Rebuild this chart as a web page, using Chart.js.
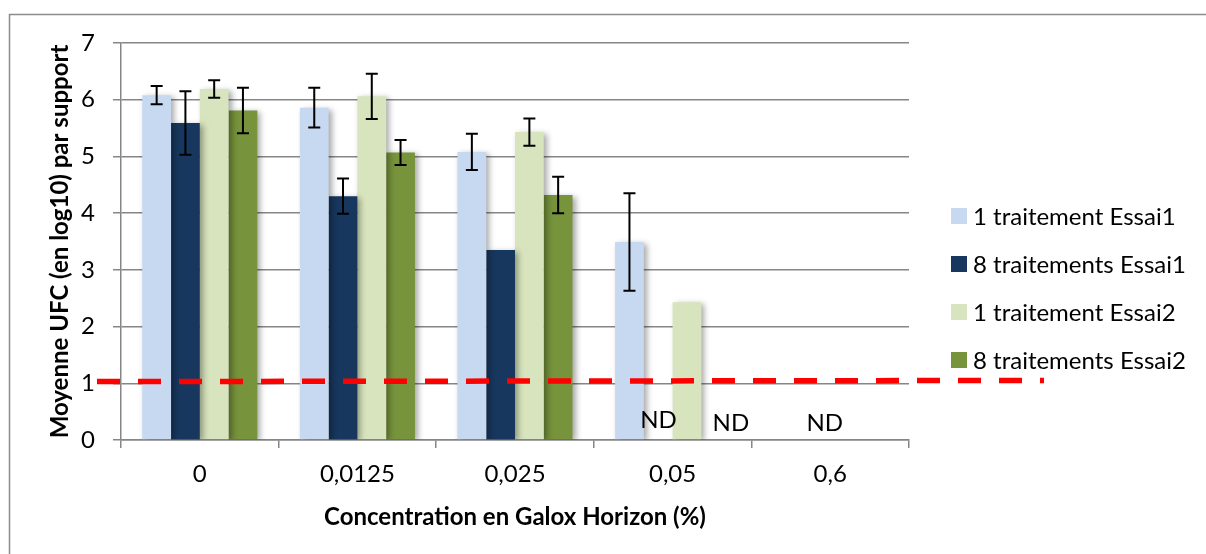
<!DOCTYPE html>
<html>
<head>
<meta charset="utf-8">
<script src="https://cdn.jsdelivr.net/npm/chart.js@4.4.0/dist/chart.umd.min.js"></script>
<style>
  body { margin: 0; background: #fff; }
  canvas { display: block; }
</style>
</head>
<body>
<canvas id="chart" width="1206" height="554"></canvas>
<script>
// data
const categories = ['0', '0,0125', '0,025', '0,05', '0,6'];
const seriesNames = ['1 traitement Essai1', '8 traitements Essai1', '1 traitement Essai2', '8 traitements Essai2'];

const un_essai1 = [6.08, 5.86, 5.08, 3.49, null];
const huit_essai1 = [5.59, 4.30, 3.35, null, null];
const un_essai2 = [6.19, 6.06, 5.43, 2.43, null];
const huit_essai2 = [5.81, 5.07, 4.32, null, null];

const err_un_essai1 = [0.16, 0.35, 0.32, 0.86, null];
const err_huit_essai1 = [0.56, 0.31, null, null, null];
const err_un_essai2 = [0.155, 0.40, 0.24, null, null];
const err_huit_essai2 = [0.40, 0.22, 0.32, null, null];

const seuil = [1.03, 1.05]; // dashed red limit, left -> right
const ndCategories = ['0,05', '0,05', '0,6'];

const yTicks = [0, 1, 2, 3, 4, 5, 6, 7];

const colors = ['#C6D9F1', '#17375E', '#D7E4BD', '#77933C'];
const font = 'Lato, "Open Sans", sans-serif';
const gridColor = '#868686';

const errors = [err_un_essai1, err_huit_essai1, err_un_essai2, err_huit_essai2];
const values = [un_essai1, huit_essai1, un_essai2, huit_essai2];

const extras = {
  id: 'extras',
  beforeDraw(chart) {
    const ctx = chart.ctx;
    ctx.save();
    ctx.strokeStyle = '#8c8c8c';
    ctx.lineWidth = 1.5;
    ctx.strokeRect(9.5, 14.5, chart.width + 20, chart.height + 20);
    ctx.restore();
  },
  beforeDatasetDraw(chart) {
    const ctx = chart.ctx;
    ctx.save();
    ctx.shadowColor = 'rgba(0,0,0,0.35)';
    ctx.shadowBlur = 6;
    ctx.shadowOffsetX = 3;
    ctx.shadowOffsetY = 2;
  },
  afterDatasetDraw(chart) {
    chart.ctx.restore();
  },
  afterDatasetsDraw(chart) {
    const ctx = chart.ctx;
    const y = chart.scales.y;
    const x = chart.scales.x;
    const area = chart.chartArea;

    // error bars
    ctx.save();
    ctx.strokeStyle = '#000';
    ctx.lineWidth = 2;
    values.forEach((serie, i) => {
      const meta = chart.getDatasetMeta(i);
      serie.forEach((v, j) => {
        const e = errors[i][j];
        if (v == null || e == null) return;
        const bx = meta.data[j].x;
        const top = y.getPixelForValue(v + e);
        const bot = y.getPixelForValue(v - e);
        ctx.beginPath();
        ctx.moveTo(bx, top); ctx.lineTo(bx, bot);
        ctx.moveTo(bx - 6, top); ctx.lineTo(bx + 6, top);
        ctx.moveTo(bx - 6, bot); ctx.lineTo(bx + 6, bot);
        ctx.stroke();
      });
    });
    ctx.restore();

    // ND labels
    const catW = (area.right - area.left) / categories.length;
    const ndShift = [-0.09, 0.37, -0.035];
    ctx.save();
    ctx.fillStyle = '#000';
    ctx.font = '24px ' + font;
    ctx.textAlign = 'center';
    ctx.textBaseline = 'middle';
    ndCategories.forEach((c, k) => {
      const cx = x.getPixelForValue(categories.indexOf(c)) + ndShift[k] * catW;
      ctx.fillText('ND', cx, y.getPixelForValue(0) - 20 + (k ? 3 : 0));
    });
    ctx.restore();

    // red dashed threshold
    ctx.save();
    ctx.strokeStyle = '#FF0000';
    ctx.lineWidth = 5.5;
    ctx.setLineDash([23, 18]);
    ctx.beginPath();
    ctx.moveTo(area.left - 24, y.getPixelForValue(seuil[0]));
    ctx.lineTo(area.right + 135, y.getPixelForValue(seuil[1]));
    ctx.stroke();
    ctx.restore();

    // legend
    ctx.save();
    ctx.font = '24px ' + font;
    ctx.textBaseline = 'middle';
    seriesNames.forEach((name, i) => {
      const ly = 216 + i * 48;
      ctx.fillStyle = colors[i];
      ctx.fillRect(area.right + 42, ly - 8, 16, 16);
      ctx.fillStyle = '#000';
      ctx.fillText(name, area.right + 64, ly + 1);
    });
    ctx.restore();
  }
};

new Chart(document.getElementById('chart'), {
  type: 'bar',
  data: {
    labels: categories,
    datasets: seriesNames.map((name, i) => ({
      label: name,
      data: values[i],
      backgroundColor: colors[i],
      borderWidth: 0,
      categoryPercentage: 0.73,
      barPercentage: 1
    }))
  },
  options: {
    responsive: false,
    animation: false,
    layout: { padding: { top: 43, right: 297, left: 0, bottom: 0 } },
    plugins: {
      legend: { display: false },
      tooltip: { enabled: false }
    },
    scales: {
      x: {
        grid: {
          offset: true,
          drawOnChartArea: false,
          color: gridColor,
          lineWidth: 1.5,
          tickLength: 8
        },
        border: { color: gridColor, width: 1.5 },
        ticks: { color: '#000', font: { family: font, size: 24 }, padding: 12 },
        title: {
          display: true,
          text: 'Concentration en Galox Horizon (%)',
          color: '#000',
          font: { family: font, size: 24, weight: 'bold' },
          padding: { top: 0, bottom: 22 }
        },
        afterFit(scale) { scale.height = 114; }
      },
      y: {
        min: 0,
        max: 7,
        afterBuildTicks(scale) { scale.ticks = yTicks.map(v => ({ value: v })); },
        grid: { color: gridColor, lineWidth: 1.5, tickLength: 8 },
        border: { color: gridColor, width: 1.5 },
        ticks: { color: '#000', font: { family: font, size: 24 }, padding: 18 },
        title: {
          display: true,
          text: 'Moyenne UFC (en log10) par support',
          color: '#000',
          font: { family: font, size: 24, weight: 'bold' },
          padding: { top: 46, bottom: 0 }
        },
        afterFit(scale) { scale.width = 121; }
      }
    }
  },
  plugins: [extras]
});
</script>
</body>
</html>
